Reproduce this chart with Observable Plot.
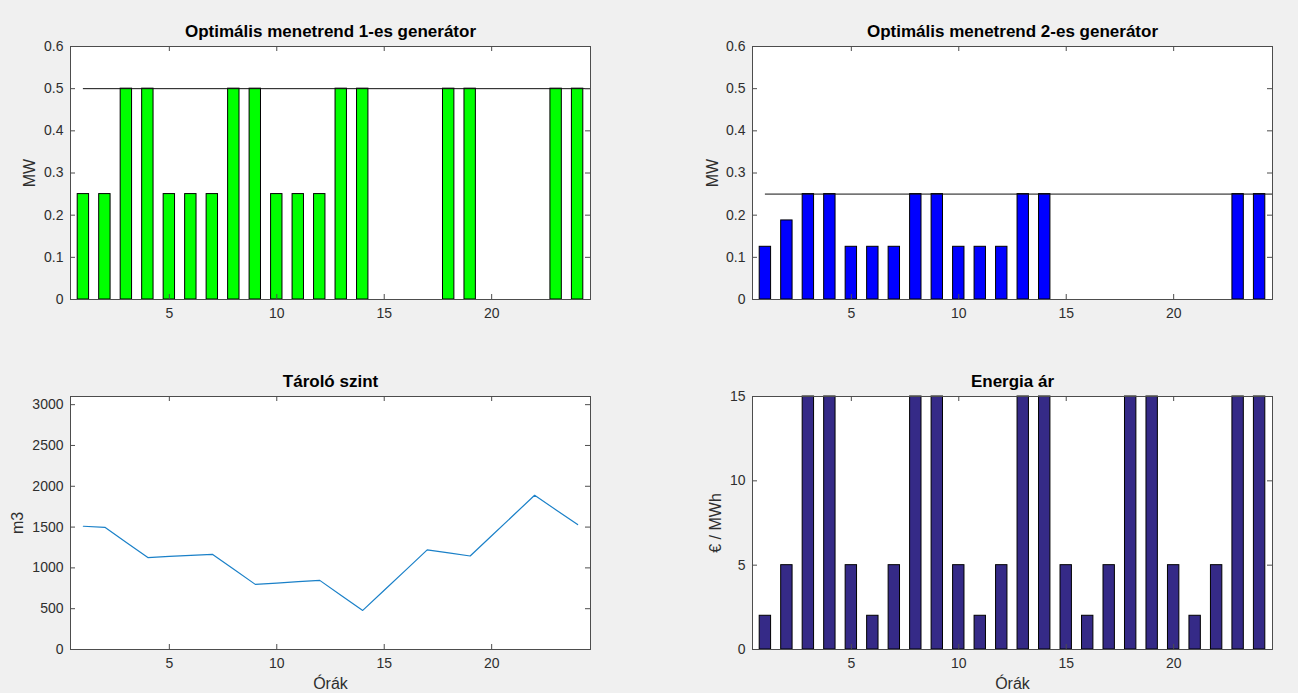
<!DOCTYPE html>
<html>
<head>
<meta charset="utf-8">
<script src="https://cdn.jsdelivr.net/npm/d3@7"></script>
<script src="https://cdn.jsdelivr.net/npm/@observablehq/plot@0.6"></script>
<style>
  html, body { margin: 0; padding: 0; background: #f0f0f0; }
  #fig { position: relative; width: 1298px; height: 693px; overflow: hidden;
         font-family: "Liberation Sans", Arial, Helvetica, sans-serif; }
  .panel { position: absolute; }
  .panel svg { overflow: visible; }
</style>
</head>
<body>
<div id="fig"></div>
<script>
// Hours of the day
const hours = [1, 2, 3, 4, 5, 6, 7, 8, 9, 10, 11, 12, 13, 14, 15, 16, 17, 18, 19, 20, 21, 22, 23, 24];

// Optimal schedule of generator 1 (MW)
const gen1 = [0.25, 0.25, 0.5, 0.5, 0.25, 0.25, 0.25, 0.5, 0.5, 0.25, 0.25, 0.25,
              0.5, 0.5, 0, 0, 0, 0.5, 0.5, 0, 0, 0, 0.5, 0.5];
// Optimal schedule of generator 2 (MW)
const gen2 = [0.125, 0.1875, 0.25, 0.25, 0.125, 0.125, 0.125, 0.25, 0.25, 0.125, 0.125, 0.125,
              0.25, 0.25, 0, 0, 0, 0, 0, 0, 0, 0, 0.25, 0.25];
// Generator capacity limits (MW)
const gen1Limit = 0.5;
const gen2Limit = 0.25;

// Reservoir level (m3)
const storage = [1510, 1497, 1311, 1126, 1140, 1153, 1166, 982, 798, 814, 831, 847,
                 663, 479, 726, 973, 1220, 1183, 1146, 1394, 1642, 1890, 1710, 1531];

// Energy price (EUR / MWh)
const price = [2, 5, 15, 15, 5, 2, 5, 15, 15, 5, 2, 5, 15, 15, 5, 2, 5, 15, 15, 5, 2, 5, 15, 15];

// Axis ticks and limits
const xDomain = [0.4, 24.6];
const xTicks = [5, 10, 15, 20];
const mwTicks = [0, 0.1, 0.2, 0.3, 0.4, 0.5, 0.6];
const mwDomain = [0, 0.6];
const storageTicks = [0, 500, 1000, 1500, 2000, 2500, 3000];
const storageDomain = [0, 3100];
const priceTicks = [0, 5, 10, 15];
const priceDomain = [0, 15];

// Texts
const titles = ["Optimális menetrend 1-es generátor", "Optimális menetrend 2-es generátor", "Tároló szint", "Energia ár"];
const yLabels = ["MW", "MW", "m3", "€ / MWh"];
const xLabel = "Órák";

const FONT = '"Liberation Sans", Arial, Helvetica, sans-serif';
const AXIS = "#4d4d4d";
const TEXT = "#2e2e2e";
const BAR_HALF = 0.265;

const rows = (values) => hours.map((h, i) => ({hour: h, value: values[i]}));

function bars(values, fill) {
  return Plot.rectY(rows(values), {
    x1: d => d.hour - BAR_HALF,
    x2: d => d.hour + BAR_HALF,
    y: "value",
    fill,
    stroke: "black",
    strokeWidth: 1
  });
}

function limitLine(value) {
  return Plot.ruleY([value], {x1: hours[0], x2: xDomain[1], stroke: "#111", strokeWidth: 1, clip: true});
}

function panel({left, top, height, marginLeft, marginRight, marginTop, marginBottom,
                yDomain, yTicks, yTickFormat, title, yLabel, yLabelOffset, showXLabel, marks}) {
  const width = 649;
  const fw = width - marginLeft - marginRight;
  const fh = height - marginTop - marginBottom;
  const t = 5;
  const svg = Plot.plot({
    width, height, marginLeft, marginRight, marginTop, marginBottom,
    style: {background: "transparent", fontFamily: FONT, fontSize: "14px", color: TEXT},
    x: {domain: xDomain, label: null},
    y: {domain: yDomain, label: null},
    marks: [
      Plot.frame({fill: "white", stroke: "none"}),
      ...marks,
      Plot.frame({stroke: AXIS, strokeWidth: 1}),
      Plot.axisX(xTicks, {tickSize: 0, tickPadding: 9, fontSize: 14, fill: TEXT, label: null}),
      Plot.axisY(yTicks, {tickSize: 0, tickPadding: 7, fontSize: 14, fill: TEXT, label: null,
                          tickFormat: yTickFormat}),
      Plot.tickX(xTicks, {x: d => d, insetTop: fh - t, stroke: AXIS}),
      Plot.tickX(xTicks, {x: d => d, insetBottom: fh - t, stroke: AXIS}),
      Plot.tickY(yTicks, {y: d => d, insetRight: fw - t, stroke: AXIS}),
      Plot.tickY(yTicks, {y: d => d, insetLeft: fw - t, stroke: AXIS}),
      Plot.text([title], {frameAnchor: "top", lineAnchor: "middle", textAnchor: "middle", dy: -15,
                          fontWeight: "bold", fontSize: 17, fill: "#000"}),
      Plot.text([yLabel], {frameAnchor: "left", lineAnchor: "middle", textAnchor: "middle", rotate: -90,
                           dx: -yLabelOffset, fontSize: 16, fill: TEXT}),
      showXLabel ? Plot.text([xLabel], {frameAnchor: "bottom", lineAnchor: "middle", textAnchor: "middle",
                                        dy: 34, fontSize: 16, fill: TEXT}) : null
    ]
  });
  const div = document.createElement("div");
  div.className = "panel";
  div.style.left = left + "px";
  div.style.top = top + "px";
  div.appendChild(svg);
  document.getElementById("fig").appendChild(div);
}

const fmt = d => `${d}`;

// Generator 1 schedule
panel({
  left: 0, top: 0, height: 346, marginLeft: 70, marginRight: 59, marginTop: 46, marginBottom: 47,
  yDomain: mwDomain, yTicks: mwTicks, yTickFormat: fmt,
  title: titles[0], yLabel: yLabels[0], yLabelOffset: 41, showXLabel: false,
  marks: [bars(gen1, "#00ff00"), limitLine(gen1Limit)]
});

// Generator 2 schedule
panel({
  left: 649, top: 0, height: 346, marginLeft: 103, marginRight: 26, marginTop: 46, marginBottom: 47,
  yDomain: mwDomain, yTicks: mwTicks, yTickFormat: fmt,
  title: titles[1], yLabel: yLabels[1], yLabelOffset: 40, showXLabel: false,
  marks: [bars(gen2, "#0000ff"), limitLine(gen2Limit)]
});

// Reservoir level
panel({
  left: 0, top: 350, height: 343, marginLeft: 70, marginRight: 59, marginTop: 46, marginBottom: 44,
  yDomain: storageDomain, yTicks: storageTicks, yTickFormat: fmt,
  title: titles[2], yLabel: yLabels[2], yLabelOffset: 53, showXLabel: true,
  marks: [Plot.line(rows(storage), {x: "hour", y: "value", stroke: "#1a80c8", strokeWidth: 1.2})]
});

// Energy price
panel({
  left: 649, top: 350, height: 343, marginLeft: 103, marginRight: 26, marginTop: 46, marginBottom: 44,
  yDomain: priceDomain, yTicks: priceTicks, yTickFormat: fmt,
  title: titles[3], yLabel: yLabels[3], yLabelOffset: 37, showXLabel: true,
  marks: [bars(price, "#352a87")]
});
</script>
</body>
</html>
